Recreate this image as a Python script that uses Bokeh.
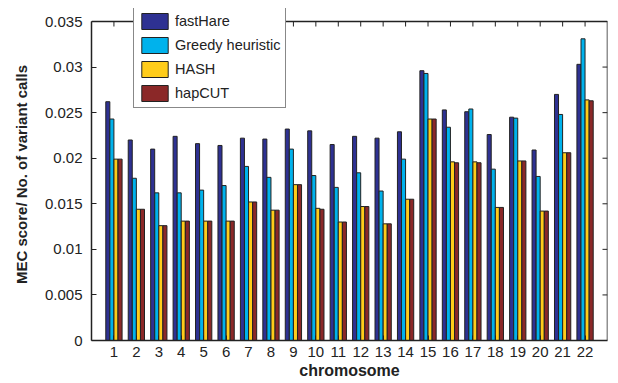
import math
from bokeh.plotting import figure
from bokeh.models import ColumnDataSource, FixedTicker, Legend, LegendItem, Range1d, Span
from bokeh.embed import file_html
from bokeh.resources import INLINE

chromosomes = list(range(1, 23))
fastHare = [0.0262, 0.0220, 0.0210, 0.0224, 0.0216, 0.0214, 0.0222, 0.0221, 0.0232, 0.0230, 0.0215,
            0.0224, 0.0222, 0.0229, 0.0296, 0.0253, 0.0251, 0.0226, 0.0245, 0.0209, 0.0270, 0.0303]
greedy = [0.0243, 0.0178, 0.0162, 0.0162, 0.0165, 0.0170, 0.0191, 0.0179, 0.0210, 0.0181, 0.0168,
          0.0184, 0.0164, 0.0199, 0.0293, 0.0234, 0.0254, 0.0188, 0.0244, 0.0180, 0.0248, 0.0331]
hash_ = [0.0199, 0.0144, 0.0126, 0.0131, 0.0131, 0.0131, 0.0152, 0.0143, 0.0171, 0.0145, 0.0130,
         0.0147, 0.0128, 0.0155, 0.0243, 0.0196, 0.0196, 0.0146, 0.0197, 0.0142, 0.0206, 0.0264]
hapcut = [0.0199, 0.0144, 0.0126, 0.0131, 0.0131, 0.0131, 0.0152, 0.0143, 0.0171, 0.0144, 0.0130,
          0.0147, 0.0128, 0.0155, 0.0243, 0.0195, 0.0195, 0.0146, 0.0197, 0.0142, 0.0206, 0.0263]
series_names = ["fastHare", "Greedy heuristic", "HASH", "hapCUT"]
colors = ["#2E3192", "#00B2EC", "#FFCC1A", "#8B2828"]
y_ticks = [0, 0.005, 0.01, 0.015, 0.02, 0.025, 0.03, 0.035]
y_tick_labels = ["0", "0.005", "0.01", "0.015", "0.02", "0.025", "0.03", "0.035"]

FONT = "Liberation Sans"
AX = "#222222"
y_max = y_ticks[-1]
x_start, x_end = 0, 23
# frame extends a little above the axes box so the legend can overlap the top edge
y_end = y_max * 332 / 319

p = figure(width=618, height=383, output_backend="svg", toolbar_location=None,
           x_range=Range1d(x_start, x_end), y_range=Range1d(0, y_end),
           min_border_left=91, min_border_right=11, min_border_top=8, min_border_bottom=43)
p.xgrid.visible = False
p.ygrid.visible = False
p.outline_line_color = None

offsets = [-0.273, -0.091, 0.091, 0.273]
bw = 0.18
renderers = []
for vals, off, col in zip([fastHare, greedy, hash_, hapcut], offsets, colors):
    src = ColumnDataSource(dict(x=[c + off for c in chromosomes], top=vals))
    r = p.vbar(x="x", top="top", bottom=0, width=bw, source=src, fill_color=col,
               line_color=AX, line_width=1)
    renderers.append(r)

# axes
p.xaxis.ticker = FixedTicker(ticks=chromosomes)
p.yaxis.ticker = FixedTicker(ticks=y_ticks)
p.yaxis.bounds = (0, y_max)
p.yaxis.major_label_overrides = {t: l for t, l in zip(y_ticks, y_tick_labels)}
for ax in [p.xaxis[0], p.yaxis[0]]:
    ax.major_tick_in = 5
    ax.major_tick_out = 0
    ax.minor_tick_line_color = None
    ax.axis_line_color = AX
    ax.axis_line_width = 1.5
    ax.major_tick_line_color = AX
    ax.major_label_text_font = FONT
    ax.major_label_text_font_size = "15px"
    ax.major_label_text_color = AX
    ax.axis_label_text_font = FONT
    ax.axis_label_text_font_style = "bold"
    ax.axis_label_text_color = AX
p.xaxis.axis_label = "chromosome"
p.yaxis.axis_label = "MEC score/ No. of variant calls"
p.xaxis.axis_label_text_font_size = "16px"
p.yaxis.axis_label_text_font_size = "15px"
p.xaxis.major_label_standoff = 6
p.xaxis.axis_label_standoff = 2
p.yaxis.major_label_standoff = 9
p.yaxis.axis_label_standoff = 12

# top and right edges of the axes box with inward ticks
p.add_layout(Span(location=y_max, dimension="width", line_color=AX, line_width=1.5))
p.segment(x0=[x_end], y0=[0], x1=[x_end], y1=[y_max], line_color=AX, line_width=1.5)
p.ray(x=chromosomes, y=[y_max] * len(chromosomes), length=5, length_units="screen",
      angle=-math.pi / 2, line_color=AX, line_width=1)
p.ray(x=[x_end] * len(y_ticks), y=y_ticks, length=5, length_units="screen",
      angle=math.pi, line_color=AX, line_width=1)

legend = Legend(items=[LegendItem(label=n, renderers=[r]) for n, r in zip(series_names, renderers)],
                location=(42, 232), glyph_width=33, glyph_height=20, label_standoff=4,
                spacing=4, padding=4, margin=0,
                label_text_font=FONT, label_text_font_size="14.5px", label_text_color=AX,
                border_line_color="#111111", border_line_width=1.5, background_fill_alpha=1)
p.add_layout(legend, "center")

open("out.html", "w").write(file_html(p, INLINE))
